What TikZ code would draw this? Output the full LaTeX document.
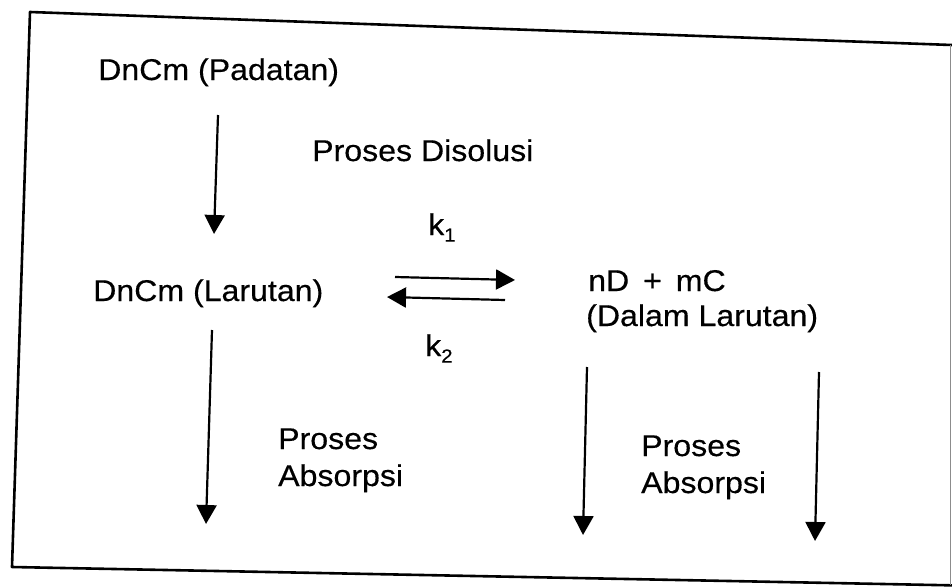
\documentclass[tikz,border=0pt]{standalone}
\usepackage{fontspec}
\setmainfont[FakeStretch=1.07,FakeBold=0.4]{Liberation Sans}
\usetikzlibrary{arrows.meta}
\begin{document}
\begin{tikzpicture}[x=1pt,y=-1pt,
  lbl/.style={anchor=base west,inner sep=0pt,font=\fontsize{30}{37}\selectfont,align=left},
  flow/.style={line width=2.2pt,-{Triangle[width=20pt,length=19pt]}},
  frame/.style={line width=2.6pt,line join=round}]
\useasboundingbox (0,0) rectangle (952,586);
% frame
\draw[frame] (960,45.3) -- (30,12) -- (12,567) -- (960,585.5);
\draw[line width=1pt,black!45] (950.5,45) -- (950.5,585);
% texts
\node[lbl] (pad) at (98,80) {DnCm (Padatan)};
\node[lbl] (dis) at (312,161) {Proses Disolusi};
\node[lbl] (lar) at (93,301) {DnCm (Larutan)};
\node[lbl] (k1) at (428,235) {k\raisebox{-0.22em}{\fontsize{19}{19}\selectfont 1}};
\node[lbl] (k2) at (425,356) {k\raisebox{-0.22em}{\fontsize{19}{19}\selectfont 2}};
\node[lbl] (prod) at (588,291) {nD\, + \,mC};
\node[lbl] (dal) at (586,326) {(Dalam Larutan)};
\node[lbl] (abs1) at (278,486) {Proses\\Absorpsi};
\node[lbl] (abs2) at (641,493) {Proses\\Absorpsi};
% connector ends
\coordinate (a1) at (218,115); \coordinate (a2) at (214,234);
\coordinate (f1) at (395,277); \coordinate (f2) at (515,280);
\coordinate (b1) at (505,300); \coordinate (b2) at (387,297);
\coordinate (c1) at (212,330); \coordinate (c2) at (206,524);
\coordinate (d1) at (587,367); \coordinate (d2) at (583,535);
\coordinate (e1) at (819,372); \coordinate (e2) at (815,541);
% arrows
\draw[flow] (a1) -- (a2);
\draw[flow] (f1) -- (f2);
\draw[flow] (b1) -- (b2);
\draw[flow] (c1) -- (c2);
\draw[flow] (d1) -- (d2);
\draw[flow] (e1) -- (e2);
\end{tikzpicture}
\end{document}
